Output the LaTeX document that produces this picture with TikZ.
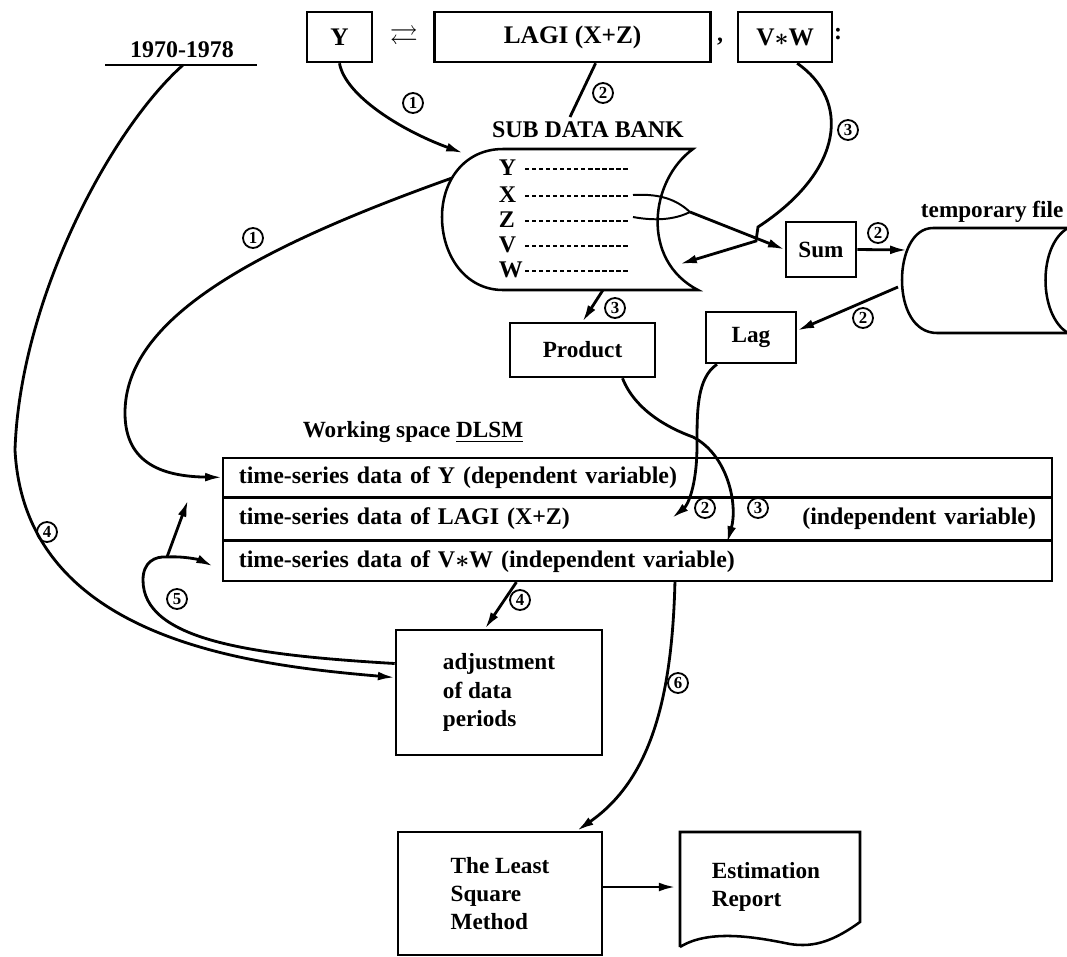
\documentclass[tikz,border=0pt]{standalone}
\usepackage{amssymb}
\usepackage{fontspec}
\setmainfont{Liberation Serif}
\usetikzlibrary{positioning,calc,arrows.meta}

\begin{document}
\begin{tikzpicture}[
    x=0.025cm, y=-0.025cm,
    node distance=1.5cm,
    txt/.style={font=\fontsize{17}{20}\selectfont\bfseries},
    box/.style={rectangle, draw, line width=1.8pt, font=\fontsize{16.5}{20}\selectfont\bfseries},
    boxtop/.style={box, minimum height=1.25cm, font=\fontsize{18}{21}\selectfont\bfseries\boldmath},
    row/.style={rectangle, draw, line width=1.2pt, anchor=north west, text width=19.925cm, inner xsep=0.4cm, inner ysep=0pt, align=left, font=\fontsize{17}{20}\selectfont\bfseries\boldmath},
    shapeline/.style={line width=1.8pt},
    flow/.style={line width=2pt, -{Latex[length=4.2mm,width=2.2mm]}},
    link/.style={line width=2pt},
    num/.style={circle, draw, line width=1.3pt, inner sep=0.5pt, minimum size=0.5cm, font=\fontsize{12}{12}\selectfont\bfseries}
  ]
  \useasboundingbox (0,0) rectangle (1067,956);

  % Statement
  \node[boxtop, minimum width=1.625cm] (ybox) at (339.5,37) {Y};
  \node[txt, font=\fontsize{20}{20}\selectfont\boldmath] (eq) at (404,38) {$\rightleftarrows$};
  \node[boxtop, minimum width=6.9cm, right=1.5cm of ybox] (lagbox) {LAGI (X+Z)};
  \node[boxtop, minimum width=2.35cm, right=0.625cm of lagbox] (vwbox) {V$\ast$W};
  \node[txt] (comma) at (720,42) {,};
  \node[txt] (colon) at (838,34) {:};

  % Period
  \node[txt] (period) at (182,50) {1970-1978};
  \coordinate (pl) at (105,65);
  \coordinate (pr) at (257,65);
  \coordinate (pm) at (183,65);
  \draw[line width=1.3pt] (pl) -- (pr);

  % Sub data bank
  \node[txt] (sdbtitle) at (588,130) {SUB DATA BANK};
  \draw[shapeline] (503,149) -- (693,149) .. controls (650,180) and (640,260) .. (698,290) -- (503,290)
    .. controls (465,290) and (442,255) .. (442,217) .. controls (442,180) and (465,149) .. (503,149);
  \node[txt, anchor=west] (vy) at (494,168) {Y};
  \node[txt, anchor=west] (vx) at (494,195) {X};
  \node[txt, anchor=west] (vz) at (494,220) {Z};
  \node[txt, anchor=west] (vv) at (494,245) {V};
  \node[txt, anchor=west] (vw) at (494,270) {W};
  \draw[densely dashed, line width=1pt] (525,169) -- (628,169);
  \draw[densely dashed, line width=1pt] (525,196) -- (628,196);
  \draw[densely dashed, line width=1pt] (525,221) -- (628,221);
  \draw[densely dashed, line width=1pt] (525,246) -- (628,246);
  \draw[densely dashed, line width=1pt] (525,271) -- (628,271);
  \coordinate (sdbin1) at (463,153);
  \coordinate (sdbout) at (452,178);
  \coordinate (sdbin3) at (680,264);
  \coordinate (sdbbot) at (603,290);
  \coordinate (xend) at (633,195);
  \coordinate (zend) at (633,217);
  \coordinate (xz) at (690,212);

  % Operations
  \node[box, minimum width=1.75cm, minimum height=1.375cm] (sum) at (821,249.5) {Sum};
  \node[box, minimum width=2.25cm, minimum height=1.275cm] (lag) at (751,337.5) {Lag};
  \node[box, minimum width=3.625cm, minimum height=1.35cm] (product) at (582.5,350) {Product};

  % Temporary file
  \node[txt, anchor=west, font=\fontsize{16.5}{18}\selectfont\bfseries] (tmplabel) at (916,212) {temporary file};
  \draw[shapeline] (1080,228) -- (933,228) .. controls (912,228) and (902,255) .. (902,280)
    .. controls (902,308) and (914,333) .. (937,333) -- (1080,333);
  \draw[shapeline] (1068,228) .. controls (1038,245) and (1038,315) .. (1068,333);
  \coordinate (tmpin) at (907,250);
  \coordinate (tmpout) at (898,287);

  % Working space
  \node[txt, font=\fontsize{16.5}{20}\selectfont\bfseries] (wsdlsm) at (413,432) {Working space \underline{DLSM}};
  \node[row, minimum height=0.975cm] (ts1) at (222,457) {time-series data of Y (dependent variable)};
  \node[row, minimum height=1.025cm, below=0cm of ts1] (ts2) {time-series data of LAGI (X+Z)\hfill(independent variable)};
  \node[row, minimum height=1cm, below=0cm of ts2] (ts3) {time-series data of V$\ast$W (independent variable)};
  \coordinate (r2in) at (672,518);
  \coordinate (r3in) at (727,543);
  \coordinate (uptip) at (188,500);
  \coordinate (fork) at (167,557);

  % Adjustment and estimation
  \node[box, minimum width=5.15cm, minimum height=3.125cm, align=left] (adj) at (499,692.5) {adjustment\\of data\\periods};
  \node[box, minimum width=5.1cm, minimum height=3.075cm, align=left] (lsm) at (500,893.5) {The Least\\Square\\Method};
  \node[minimum width=4.5cm, minimum height=2.875cm, align=left, font=\fontsize{16.5}{20}\selectfont\bfseries] (report) at (766,887) {Estimation\\Report};
  \draw[shapeline] (680,947) -- (680,832) -- (860,832) -- (860,922)
    .. controls (835,940) and (815,948) .. (790,944) .. controls (760,938) and (710,928) .. (680,947);

  % Flows from the statement
  \draw[flow] (ybox.south) .. controls (345,95) and (400,130) .. (sdbin1);
  \node[num] (n1a) at (413,103) {1};
  \draw[link] ($(lagbox.south)+(23,0)$) -- ($(sdbtitle.north)+(-18,0)$);
  \node[num] (n2a) at (603,93) {2};
  \draw[flow] ($(vwbox.south)+(12,0)$) .. controls (850,100) and (845,170) .. (758,227) -- (756,241) -- (sdbin3);
  \node[num] (n3a) at (848,130) {3};

  % Sum, lag, product
  \draw[link, line width=1.4pt] (xend) .. controls (665,193) and (680,203) .. (xz);
  \draw[link, line width=1.4pt] (zend) .. controls (660,222) and (678,218) .. (xz);
  \draw[flow] (xz) -- (sum.west);
  \draw[flow] (sum.east) -- (tmpin);
  \node[num] (n2b) at (878,233) {2};
  \draw[flow] (tmpout) -- ($(lag.east)+(0,-7)$);
  \node[num] (n2c) at (863,318) {2};
  \draw[flow] (sdbbot) -- (product.north);
  \node[num] (n3b) at (615,308) {3};

  % Into working space
  \draw[flow] (sdbout) .. controls (250,250) and (125,320) .. (125,413) .. controls (125,465) and (165,476.5) .. (ts1.west);
  \node[num] (n1b) at (253,238) {1};
  \draw[flow] ($(lag.south)+(-34,0)$) .. controls (697,378) and (697,410) .. (697,445) .. controls (697,485) and (688,505) .. (r2in);
  \node[num] (n2d) at (705,508) {2};
  \draw[flow] ($(product.south)+(40,0)$) .. controls (635,410) and (668,428) .. (693,437) .. controls (728,455) and (738,505) .. (r3in);
  \node[num] (n3c) at (758,508) {3};

  % Period adjustment
  \draw[flow] (pm) .. controls (110,130) and (20,300) .. (15,450) .. controls (25,640) and (250,665) .. ($(adj.west)+(0,-15)$);
  \node[num] (n4a) at (47,532) {4};
  \draw[flow] ($(ts3.south)+(-121,0)$) -- ($(adj.north)+(-14,0)$);
  \node[num] (n4b) at (520,600) {4};
  \draw[link] ($(adj.west)+(0,-29)$) .. controls (250,655) and (143,640) .. (143,580) .. controls (143,562) and (155,556) .. (fork);
  \draw[flow] (fork) .. controls (185,556) and (200,560) .. ($(ts3.west)+(-9,5)$);
  \draw[flow] (fork) -- (uptip);
  \node[num] (n5) at (177,599) {5};

  % Estimation
  \draw[flow] ($(ts3.south)+(37.5,0)$) .. controls (672,700) and (650,780) .. ($(lsm.north)+(77,0)$);
  \node[num] (n6) at (678,683) {6};
  \draw[flow] (lsm.east |- report.west) -- (report.west);

\end{tikzpicture}
\end{document}
